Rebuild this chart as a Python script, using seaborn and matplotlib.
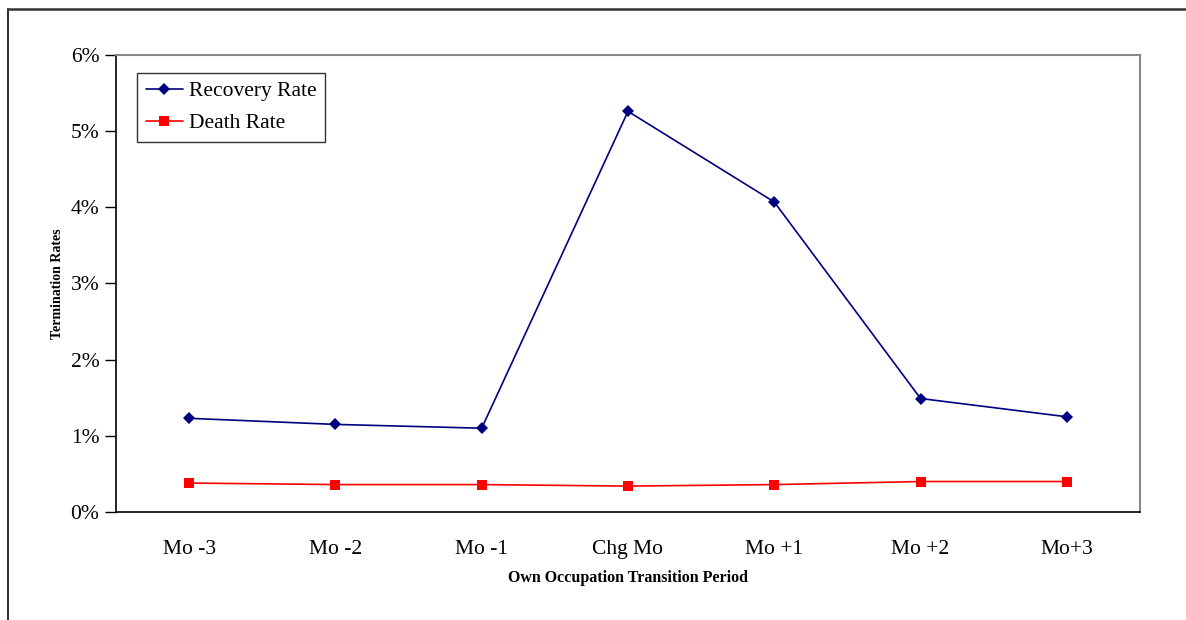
import matplotlib
matplotlib.use("Agg")
import matplotlib.pyplot as plt
import seaborn as sns
import pandas as pd
from matplotlib.lines import Line2D
from matplotlib.ticker import FuncFormatter, FixedLocator

categories = ["Mo -3", "Mo -2", "Mo -1", "Chg Mo", "Mo +1", "Mo +2", "Mo+3"]
recovery_rate = [1.23, 1.15, 1.10, 5.26, 4.07, 1.49, 1.25]
death_rate = [0.38, 0.36, 0.36, 0.34, 0.36, 0.40, 0.40]
y_ticks = [0, 1, 2, 3, 4, 5, 6]

sns.set_theme(style="white")
plt.rcParams['font.family'] = ['Liberation Serif', 'DejaVu Serif']
plt.rcParams['text.color'] = 'black'
plt.rcParams['axes.labelcolor'] = 'black'
plt.rcParams['xtick.color'] = 'black'
plt.rcParams['ytick.color'] = 'black'

df = pd.DataFrame({
    "pos": list(range(len(categories))) * 2,
    "value": recovery_rate + death_rate,
    "series": ["Recovery Rate"] * len(categories) + ["Death Rate"] * len(categories),
})

fig = plt.figure(figsize=(11.86, 6.2), dpi=100)
ax = fig.add_axes([0.0978, 0.1742, 0.8634, 0.7371])

sns.lineplot(data=df, x="pos", y="value", hue="series", style="series",
             palette={"Recovery Rate": "#000080", "Death Rate": "#FF0000"},
             markers={"Recovery Rate": "D", "Death Rate": "s"},
             dashes=False, markersize=6.5, markeredgewidth=0, linewidth=1.2,
             ax=ax, legend=False)

ax.set_xlim(-0.5, len(categories) - 0.5)
ax.set_ylim(0, 6)
ax.set_yticks(y_ticks)
ax.yaxis.set_major_formatter(FuncFormatter(lambda v, p: f"{v:.0f}%"))
ax.set_xticks(range(len(categories)))
ax.set_xticklabels(categories)
ax.tick_params(axis="x", which="major", length=0, pad=20, labelsize=15.5, labelcolor="black")
ax.xaxis.set_minor_locator(FixedLocator([i - 0.5 for i in range(len(categories) + 1)]))
ax.tick_params(axis="x", which="minor", length=7, width=1, color="black", direction="out")
ax.tick_params(axis="y", length=8, width=1, color="black", direction="out", labelsize=15.5,
               pad=4, left=True, labelcolor="black")

for s in ["left", "bottom"]:
    ax.spines[s].set_color("black")
    ax.spines[s].set_linewidth(1.2)
for s in ["top", "right"]:
    ax.spines[s].set_color("#888888")
    ax.spines[s].set_linewidth(1.5)

ax.set_xlabel("Own Occupation Transition Period", fontsize=11.5, fontweight="bold", labelpad=8, color="black")
ax.set_ylabel("Termination Rates", fontsize=10, fontweight="bold", labelpad=5, color="black")

handles = [
    Line2D([], [], color="#000080", marker="D", markersize=6.5, markeredgewidth=0, linewidth=1.2),
    Line2D([], [], color="#FF0000", marker="s", markersize=6.5, markeredgewidth=0, linewidth=1.2),
]
leg = ax.legend(handles, ["Recovery Rate", "Death Rate"], loc="upper left",
                bbox_to_anchor=(0.0205, 0.961), fontsize=15.5, frameon=True,
                fancybox=False, borderpad=0.4, handlelength=1.75, labelspacing=0.55,
                handletextpad=0.25, borderaxespad=0, labelcolor="black")
leg.get_frame().set_edgecolor("black")
leg.get_frame().set_linewidth(1.0)

# outer frame (top and left edges visible)
fig.add_artist(Line2D([8 / 1186, 1.0], [1 - 9 / 620, 1 - 9 / 620], transform=fig.transFigure,
                      color="#333333", linewidth=1.8))
fig.add_artist(Line2D([8 / 1186, 8 / 1186], [0, 1 - 9 / 620], transform=fig.transFigure,
                      color="#333333", linewidth=1.5))

fig.savefig("out.png", dpi=100)
